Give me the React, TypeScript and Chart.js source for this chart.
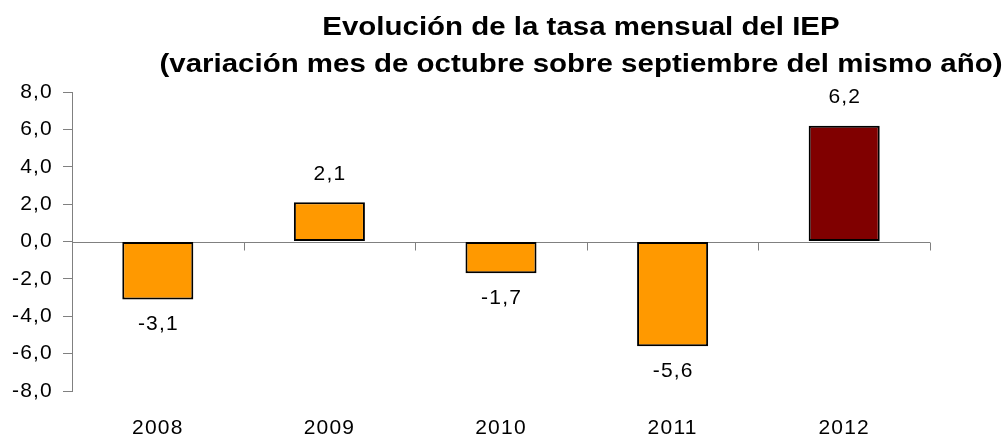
import React, { useEffect, useRef } from "react";
import { Chart, registerables } from "chart.js";

Chart.register(...registerables);

const categories = ["2008", "2009", "2010", "2011", "2012"];
const values = [-3.1, 2.1, -1.7, -5.6, 6.2];
const barColors = ["#FF9900", "#FF9900", "#FF9900", "#FF9900", "#800000"];
const titleLines = [
  "Evolución de la tasa mensual del IEP",
  "(variación mes de octubre sobre septiembre del mismo año)",
];
const yMin = -8;
const yMax = 8;
const yStep = 2;

const FONT = "'Liberation Sans', Arial, sans-serif";
const LS = "1.2px";
const fmt = (v: number) => v.toFixed(1).replace(".", ",");

const spacingPlugin = {
  id: "spacing",
  beforeDraw(chart: any) {
    chart.ctx.save();
    chart.ctx.letterSpacing = LS;
  },
  afterDraw(chart: any) {
    chart.ctx.restore();
  },
};

const titlePlugin = {
  id: "customTitle",
  afterDraw(chart: any) {
    const ctx = chart.ctx;
    ctx.save();
    ctx.letterSpacing = "0px";
    ctx.fillStyle = "#000";
    ctx.font = `bold 26px ${FONT}`;
    ctx.textAlign = "center";
    ctx.textBaseline = "alphabetic";
    const ys = [35, 72];
    titleLines.forEach((t, i) => {
      ctx.save();
      ctx.translate(581, ys[i]);
      ctx.scale(1.133, 1);
      ctx.fillText(t, 0, 0);
      ctx.restore();
    });
    ctx.restore();
  },
};

const zeroLinePlugin = {
  id: "zeroLine",
  beforeDatasetsDraw(chart: any) {
    const ctx = chart.ctx;
    const x = chart.scales.x;
    const y = chart.scales.y;
    const y0 = Math.round(y.getPixelForValue(0)) + 0.5;
    const step = x.getPixelForValue(1) - x.getPixelForValue(0);
    ctx.save();
    ctx.strokeStyle = "#808080";
    ctx.lineWidth = 1;
    ctx.beginPath();
    ctx.moveTo(x.left, y0);
    ctx.lineTo(x.right, y0);
    for (let i = 0; i < categories.length; i++) {
      const px = Math.round(x.getPixelForValue(i) + step / 2) + 0.5;
      ctx.moveTo(px, y0);
      ctx.lineTo(px, y0 + 8);
    }
    ctx.stroke();
    ctx.restore();
  },
};

const labelPlugin = {
  id: "valueLabels",
  afterDatasetsDraw(chart: any) {
    const ctx = chart.ctx;
    const meta = chart.getDatasetMeta(0);
    ctx.save();
    ctx.letterSpacing = LS;
    ctx.fillStyle = "#000";
    ctx.font = `21px ${FONT}`;
    ctx.textAlign = "center";
    ctx.textBaseline = "middle";
    meta.data.forEach((bar: any, i: number) => {
      const v = values[i];
      const yy = v >= 0 ? bar.y - 28 : bar.y + 25;
      ctx.fillText(fmt(v), bar.x + 0.6, yy);
    });
    ctx.restore();
  },
};

export default function App() {
  const ref = useRef<HTMLCanvasElement>(null);
  useEffect(() => {
    document.body.style.margin = "0";
    const chart = new Chart(ref.current!, {
      type: "bar",
      data: {
        labels: categories,
        datasets: [
          {
            data: values,
            backgroundColor: barColors,
            borderColor: "#000000",
            borderWidth: 2,
            borderSkipped: false,
            barPercentage: 0.414,
            categoryPercentage: 1,
          },
        ],
      },
      options: {
        responsive: false,
        animation: false,
        layout: { padding: { left: 0, right: 77, top: 92, bottom: 0 } },
        plugins: {
          legend: { display: false },
          title: { display: false },
          tooltip: { enabled: false },
        },
        scales: {
          x: {
            grid: { display: false, drawTicks: false },
            border: { display: false },
            ticks: { color: "#000", font: { family: FONT, size: 21 }, padding: 25, maxRotation: 0 },
            afterFit: (s: any) => {
              s.height = 45;
            },
          },
          y: {
            min: yMin,
            max: yMax,
            ticks: {
              stepSize: yStep,
              color: "#000",
              font: { family: FONT, size: 21 },
              padding: 10,
              callback: (v: any) => fmt(Number(v)),
            },
            grid: { drawOnChartArea: false, drawTicks: true, tickLength: 9, color: "#808080" },
            border: { color: "#808080" },
            afterFit: (s: any) => {
              s.width = 72;
            },
          },
        },
      },
      plugins: [spacingPlugin, zeroLinePlugin, labelPlugin, titlePlugin],
    });
    return () => chart.destroy();
  }, []);
  return <canvas ref={ref} width={1007} height={436} />;
}
